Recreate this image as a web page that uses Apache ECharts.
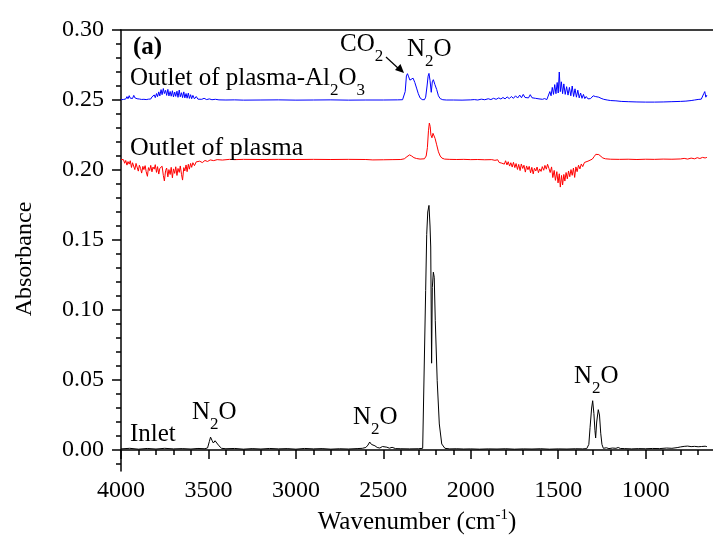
<!DOCTYPE html>
<html>
<head>
<meta charset="UTF-8">
<title>FTIR spectra</title>
<script src="https://cdn.jsdelivr.net/npm/echarts@6.0.0/dist/echarts.min.js"></script>
<style>
  html, body { margin: 0; padding: 0; background: #fff; }
  #main { width: 713px; height: 540px; }
</style>
</head>
<body>
<div id="main"></div>
<script>
// axis ticks
var xMajor = [1000, 1500, 2000, 2500, 3000, 3500, 4000];
var xMinor = [700, 800, 900, 1100, 1200, 1300, 1400, 1600, 1700, 1800, 1900, 2100, 2200, 2300, 2400,
  2600, 2700, 2800, 2900, 3100, 3200, 3300, 3400, 3600, 3700, 3800, 3900];
var yMajor = [0, 0.05, 0.10, 0.15, 0.20, 0.25, 0.30];
var yMinor = [-0.01, 0.01, 0.02, 0.03, 0.04, 0.06, 0.07, 0.08, 0.09, 0.11, 0.12, 0.13, 0.14,
  0.16, 0.17, 0.18, 0.19, 0.21, 0.22, 0.23, 0.24, 0.26, 0.27, 0.28, 0.29];

// spectra, [wavenumber, absorbance]
var inlet = [
  [4000,0.0008],[3950,0.0012],[3900,0.0006],[3850,0.0011],[3800,0.0007],[3750,0.0012],[3700,0.0008],
  [3650,0.0010],[3600,0.0007],[3560,0.0011],[3520,0.0009],[3505,0.0015],[3495,0.0060],[3488,0.0092],
  [3480,0.0070],[3472,0.0050],[3462,0.0066],[3452,0.0058],[3440,0.0030],[3425,0.0012],[3400,0.0009],
  [3350,0.0011],[3300,0.0006],[3250,0.0010],[3200,0.0007],[3150,0.0011],[3100,0.0008],[3050,0.0010],
  [3000,0.0006],[2950,0.0011],[2900,0.0008],[2850,0.0010],[2800,0.0006],[2750,0.0009],[2700,0.0007],
  [2650,0.0010],[2620,0.0012],[2600,0.0018],[2588,0.0035],[2578,0.0057],[2568,0.0040],[2558,0.0048],
  [2548,0.0030],[2535,0.0018],[2520,0.0014],[2505,0.0025],[2495,0.0015],[2480,0.0020],[2465,0.0013],
  [2450,0.0019],[2430,0.0010],[2400,0.0009],[2350,0.0008],[2300,0.0009],[2275,0.0012],
  [2266,0.0020],[2258,0.114],[2252,0.154],[2246,0.170],[2239,0.1747],[2233,0.160],[2229,0.145],
  [2224,0.062],[2220,0.116],[2214,0.127],[2209,0.1234],[2203,0.0925],[2192,0.0495],[2180,0.0186],
  [2166,0.0043],[2148,0.0012],[2120,0.0008],[2080,0.0009],[2040,0.0007],[2000,0.0008],[1950,0.0006],
  [1900,0.0008],[1850,0.0007],[1800,0.0009],[1750,0.0006],[1700,0.0008],[1650,0.0007],[1600,0.0009],
  [1550,0.0006],[1500,0.0008],[1450,0.0007],[1400,0.0009],[1360,0.0008],[1337,0.0010],[1325,0.0040],
  [1318,0.016],[1309,0.030],[1303,0.0352],[1296,0.026],[1290,0.014],[1286,0.0086],[1280,0.020],
  [1271,0.0288],[1264,0.025],[1257,0.012],[1250,0.004],[1242,0.0012],[1225,0.0016],[1210,0.0010],
  [1190,0.0014],[1170,0.0012],[1157,0.0018],[1145,0.0011],[1120,0.0010],[1080,0.0008],[1040,0.0010],
  [1000,0.0009],[960,0.0011],[920,0.0010],[880,0.0014],[850,0.0012],[820,0.0017],[800,0.0022],
  [790,0.0015],[780,0.0026],[770,0.0018],[760,0.0028],[750,0.0020],[740,0.0024],[730,0.0017],
  [720,0.0026],[710,0.0020],[700,0.0023],[690,0.0018],[680,0.0025],[670,0.0021],[660,0.0027],[650,0.0024]
];

var plasma = [
  [4000,0.2075],[3993,0.2062],[3986,0.2074],[3979,0.2048],[3973,0.2068],[3966,0.2035],[3960,0.2060],
  [3953,0.2042],[3947,0.2066],[3940,0.2018],[3934,0.2052],[3927,0.2038],[3921,0.2003],[3914,0.2047],
  [3908,0.2021],[3901,0.1992],[3895,0.2034],[3888,0.2011],[3882,0.1978],[3875,0.2026],[3869,0.2003],
  [3862,0.2031],[3856,0.1988],[3849,0.1955],[3843,0.2017],[3836,0.1996],[3830,0.2033],[3823,0.1987],
  [3817,0.2021],[3810,0.2006],[3804,0.2038],[3797,0.1983],[3791,0.2024],[3784,0.1971],[3778,0.2012],
  [3771,0.1998],[3765,0.2027],[3758,0.1962],[3752,0.1922],[3745,0.1996],[3739,0.2014],[3732,0.1951],
  [3726,0.2003],[3719,0.1968],[3713,0.2019],[3706,0.1944],[3700,0.2008],[3693,0.1976],[3687,0.2023],
  [3680,0.1961],[3674,0.2011],[3667,0.1983],[3661,0.2029],[3654,0.1969],[3648,0.1928],[3641,0.2017],
  [3635,0.1993],[3628,0.2036],[3622,0.1988],[3615,0.2041],[3609,0.2006],[3602,0.2047],[3596,0.2019],
  [3589,0.2052],[3580,0.2031],[3570,0.2058],[3560,0.2044],[3550,0.2063],[3535,0.2053],[3520,0.2068],
  [3505,0.2061],[3490,0.2072],[3470,0.2067],[3450,0.2074],[3420,0.2071],[3380,0.2076],[3350,0.2074],
  [3300,0.2076],[3200,0.2075],[3100,0.2076],[3000,0.2075],[2900,0.2076],[2800,0.2075],[2700,0.2076],
  [2600,0.2075],[2560,0.2072],[2500,0.2073],[2450,0.2074],[2400,0.2075],[2380,0.2080],[2365,0.2095],
  [2350,0.2108],[2338,0.2100],[2325,0.2088],[2310,0.2082],[2290,0.2078],[2265,0.2080],[2255,0.2100],
  [2248,0.2160],[2242,0.2280],[2237,0.2335],[2232,0.2310],[2228,0.2250],[2222,0.2230],[2216,0.2262],
  [2210,0.2262],[2204,0.2225],[2195,0.2180],[2185,0.2130],[2175,0.2100],[2165,0.2085],[2150,0.2078],
  [2120,0.2076],[2080,0.2075],[2040,0.2076],[2000,0.2074],[1960,0.2075],[1920,0.2073],[1880,0.2074],
  [1862,0.2069],[1853,0.2061],[1846,0.2073],[1838,0.2054],[1831,0.2067],[1823,0.2049],[1816,0.2063],
  [1808,0.2042],[1801,0.2066],[1793,0.2036],[1786,0.2059],[1778,0.2028],[1771,0.2052],[1763,0.2021],
  [1756,0.2055],[1748,0.2017],[1741,0.2046],[1733,0.2004],[1726,0.2040],[1718,0.1996],[1711,0.2043],
  [1703,0.2011],[1696,0.2034],[1688,0.1985],[1681,0.2029],[1673,0.2002],[1666,0.2026],[1658,0.1980],
  [1651,0.2019],[1643,0.1972],[1636,0.2013],[1628,0.1993],[1621,0.2021],[1613,0.1981],[1606,0.2008],
  [1598,0.1990],[1591,0.2024],[1583,0.1998],[1576,0.2033],[1568,0.2006],[1561,0.2041],[1553,0.2011],
  [1546,0.1982],[1538,0.2022],[1531,0.1946],[1523,0.1997],[1516,0.1926],[1508,0.1988],[1501,0.1908],
  [1494,0.1973],[1488,0.1878],[1481,0.1961],[1475,0.1893],[1468,0.1968],[1462,0.1921],[1455,0.1982],
  [1448,0.1937],[1441,0.1993],[1434,0.1952],[1427,0.2003],[1420,0.1962],[1413,0.2014],[1406,0.1947],
  [1399,0.2022],[1392,0.1988],[1384,0.2034],[1376,0.2008],[1368,0.2043],[1360,0.2024],[1350,0.2054],
  [1340,0.2041],[1330,0.2063],[1318,0.2070],[1305,0.2078],[1295,0.2095],[1285,0.2112],[1276,0.2106],
  [1268,0.2110],[1258,0.2098],[1245,0.2086],[1230,0.2080],[1200,0.2077],[1150,0.2076],[1100,0.2077],
  [1050,0.2075],[1000,0.2077],[950,0.2076],[900,0.2078],[850,0.2077],[800,0.2079],[780,0.2083],
  [760,0.2078],[740,0.2085],[720,0.2080],[705,0.2088],[690,0.2082],[675,0.2090],[660,0.2086],[650,0.2090]
];

var plasmaAl2O3 = [
  [4000,0.2502],[3993,0.2511],[3986,0.2504],[3979,0.2517],[3973,0.2507],[3966,0.2524],[3960,0.2509],
  [3953,0.2531],[3947,0.2513],[3940,0.2527],[3934,0.2511],[3927,0.2533],[3921,0.2516],[3914,0.2524],
  [3908,0.2509],[3901,0.2521],[3895,0.2507],[3888,0.2515],[3882,0.2504],[3875,0.2513],[3869,0.2505],
  [3862,0.2511],[3856,0.2503],[3849,0.2509],[3843,0.2506],[3836,0.2516],[3830,0.2507],[3823,0.2522],
  [3817,0.2511],[3810,0.2536],[3804,0.2517],[3797,0.2546],[3791,0.2524],[3784,0.2558],[3778,0.2529],
  [3771,0.2574],[3765,0.2538],[3758,0.2582],[3752,0.2546],[3745,0.2569],[3739,0.2533],[3732,0.2576],
  [3726,0.2529],[3719,0.2561],[3713,0.2527],[3706,0.2566],[3700,0.2522],[3693,0.2557],[3687,0.2526],
  [3680,0.2563],[3674,0.2519],[3667,0.2571],[3661,0.2523],[3654,0.2552],[3648,0.2517],[3641,0.2558],
  [3635,0.2515],[3628,0.2546],[3622,0.2513],[3615,0.2549],[3609,0.2511],[3602,0.2538],[3596,0.2509],
  [3589,0.2533],[3580,0.2508],[3570,0.2525],[3560,0.2506],[3550,0.2518],[3538,0.2505],[3525,0.2512],
  [3510,0.2503],[3495,0.2508],[3480,0.2502],[3460,0.2505],[3440,0.2501],[3400,0.2500],[3350,0.2501],
  [3300,0.2499],[3200,0.2500],[3100,0.2501],[3000,0.2499],[2900,0.2500],[2800,0.2501],[2700,0.2499],
  [2600,0.2500],[2500,0.2500],[2420,0.2501],[2390,0.2502],[2382,0.2510],[2375,0.2560],[2368,0.2672],
  [2362,0.2688],[2355,0.2665],[2348,0.2642],[2340,0.2655],[2330,0.2656],[2320,0.2625],[2310,0.2585],
  [2300,0.2545],[2290,0.2515],[2278,0.2503],[2265,0.2502],[2258,0.2520],[2250,0.2600],[2244,0.2670],
  [2239,0.2690],[2233,0.2640],[2226,0.2555],[2220,0.2630],[2214,0.2645],[2205,0.2610],[2195,0.2575],
  [2185,0.2530],[2175,0.2510],[2160,0.2502],[2140,0.2500],[2100,0.2500],[2050,0.2499],[2000,0.2501],
  [1980,0.2503],[1960,0.2500],[1940,0.2506],[1920,0.2502],[1900,0.2509],[1885,0.2503],[1870,0.2512],
  [1855,0.2505],[1840,0.2515],[1828,0.2507],[1816,0.2518],[1804,0.2508],[1792,0.2522],[1780,0.2510],
  [1768,0.2525],[1756,0.2512],[1744,0.2530],[1732,0.2514],[1720,0.2535],[1710,0.2516],[1700,0.2540],
  [1690,0.2518],[1680,0.2532],[1670,0.2515],[1660,0.2538],[1650,0.2516],[1640,0.2528],[1630,0.2512],
  [1620,0.2522],[1610,0.2508],[1600,0.2515],[1590,0.2505],[1578,0.2510],[1565,0.2503],[1555,0.2515],
  [1548,0.2560],[1541,0.2530],[1534,0.2590],[1527,0.2540],[1520,0.2610],[1513,0.2545],[1506,0.2625],
  [1500,0.2550],[1494,0.2700],[1488,0.2560],[1482,0.2630],[1475,0.2545],[1468,0.2615],[1460,0.2540],
  [1452,0.2595],[1444,0.2535],[1436,0.2590],[1428,0.2530],[1420,0.2600],[1412,0.2525],[1404,0.2580],
  [1396,0.2520],[1388,0.2570],[1380,0.2515],[1372,0.2550],[1364,0.2512],[1356,0.2540],[1348,0.2510],
  [1340,0.2525],[1330,0.2508],[1315,0.2510],[1300,0.2530],[1288,0.2525],[1278,0.2532],[1268,0.2520],
  [1255,0.2512],[1240,0.2505],[1220,0.2500],[1200,0.2496],[1170,0.2494],[1140,0.2490],[1100,0.2488],
  [1050,0.2486],[1000,0.2485],[950,0.2485],[900,0.2486],[850,0.2488],[800,0.2490],[770,0.2492],
  [740,0.2496],[720,0.2500],[700,0.2504],[690,0.2510],[682,0.2506],[675,0.2518],[668,0.2545],
  [662,0.2560],[656,0.2520],[650,0.2535]
];

var serif = "'Liberation Serif', 'Times New Roman', serif";
var chart = echarts.init(document.getElementById('main'));

var richSub = {
  m: { fontSize: 25, lineHeight: 27, fontFamily: serif, fill: '#000' },
  s: { fontSize: 17, lineHeight: 17, padding: [25, 0, 0, 0], fontFamily: serif, fill: '#000' }
};

function subText(text, left, top) {
  return { type: 'text', left: left, top: top, z: 100,
    style: { text: text, fontSize: 25, fontFamily: serif, fill: '#000', rich: richSub } };
}
function plainText(text, left, top, size, bold) {
  return { type: 'text', left: left, top: top, z: 100,
    style: { text: text, font: (bold ? 'bold ' : '') + size + 'px ' + serif, fill: '#000' } };
}

var axisCommon = {
  type: 'value', min: 615, max: 4000, inverse: true, splitLine: { show: false }
};

option = {
  animation: false,
  backgroundColor: '#fff',
  textStyle: { fontFamily: serif },
  grid: { left: 121, right: 0, top: 30, height: 441, outerBoundsMode: 'none' },
  xAxis: [
    Object.assign({}, axisCommon, {
      position: 'bottom',
      axisLine: { lineStyle: { color: '#000', width: 1.5 } },
      axisTick: { customValues: xMajor, length: 9, lineStyle: { color: '#000', width: 1.5 } },
      axisLabel: { customValues: xMajor, fontSize: 24, fontFamily: serif, color: '#000', margin: 8,
        formatter: function (v) { return String(v); } },
      name: '{n|Wavenumber (cm}{s|-1}{n|)}',
      nameLocation: 'middle',
      nameGap: 33,
      nameTextStyle: {
        fontFamily: serif,
        rich: {
          n: { fontSize: 25, lineHeight: 27, fontFamily: serif, color: '#000' },
          s: { fontSize: 15, lineHeight: 15, padding: [0, 0, 14, 0], fontFamily: serif, color: '#000' }
        }
      }
    }),
    Object.assign({}, axisCommon, {
      position: 'bottom',
      axisLine: { show: false },
      axisTick: { customValues: xMinor, length: 5, lineStyle: { color: '#000', width: 1.5 } },
      axisLabel: { show: false }
    }),
    Object.assign({}, axisCommon, {
      position: 'top',
      axisLine: { lineStyle: { color: '#000', width: 1.5 } },
      axisTick: { show: false },
      axisLabel: { show: false }
    })
  ],
  yAxis: [
    {
      type: 'value', min: -0.015, max: 0.30, position: 'left', splitLine: { show: false },
      axisLine: { show: true, lineStyle: { color: '#000', width: 1.5 } },
      axisTick: { show: true, customValues: yMajor, length: 9, lineStyle: { color: '#000', width: 1.5 } },
      axisLabel: {
        customValues: yMajor, fontSize: 24, fontFamily: serif, color: '#000', margin: 17,
        formatter: function (v) { return v.toFixed(2); }
      }
    },
    {
      type: 'value', min: -0.015, max: 0.30, position: 'left', splitLine: { show: false },
      axisLine: { show: false },
      axisTick: { show: true, customValues: yMinor, length: 5, lineStyle: { color: '#000', width: 1.5 } },
      axisLabel: { show: false }
    }
  ],
  graphic: [
    { type: 'text', x: 25, y: 259, rotation: Math.PI / 2, z: 100,
      style: { text: 'Absorbance', font: '24px ' + serif, fill: '#000', align: 'center', verticalAlign: 'middle' } },
    plainText('(a)', 133, 35, 25, true),
    subText('{m|Outlet of plasma-Al}{s|2}{m|O}{s|3}', 130, 57),
    plainText('Outlet of plasma', 130, 135, 26),
    plainText('Inlet', 130, 422, 25),
    subText('{m|CO}{s|2}', 340, 23),
    subText('{m|N}{s|2}{m|O}', 407, 28),
    subText('{m|N}{s|2}{m|O}', 192, 391),
    subText('{m|N}{s|2}{m|O}', 353, 396),
    subText('{m|N}{s|2}{m|O}', 574, 355),
    { type: 'line', z: 100, shape: { x1: 386, y1: 57, x2: 399, y2: 69 }, style: { stroke: '#000', lineWidth: 1.2 } },
    { type: 'polygon', z: 100, shape: { points: [[404, 73], [395, 70], [400.5, 64]] }, style: { fill: '#000' } }
  ],
  series: [
    { name: 'Inlet', type: 'line', data: inlet, showSymbol: false, symbol: 'none',
      lineStyle: { color: '#000', width: 1 } },
    { name: 'Outlet of plasma', type: 'line', data: plasma, showSymbol: false, symbol: 'none',
      lineStyle: { color: '#ff0000', width: 1 } },
    { name: 'Outlet of plasma-Al2O3', type: 'line', data: plasmaAl2O3, showSymbol: false, symbol: 'none',
      lineStyle: { color: '#0000ff', width: 1 } }
  ]
};
chart.setOption(option);
</script>
</body>
</html>
